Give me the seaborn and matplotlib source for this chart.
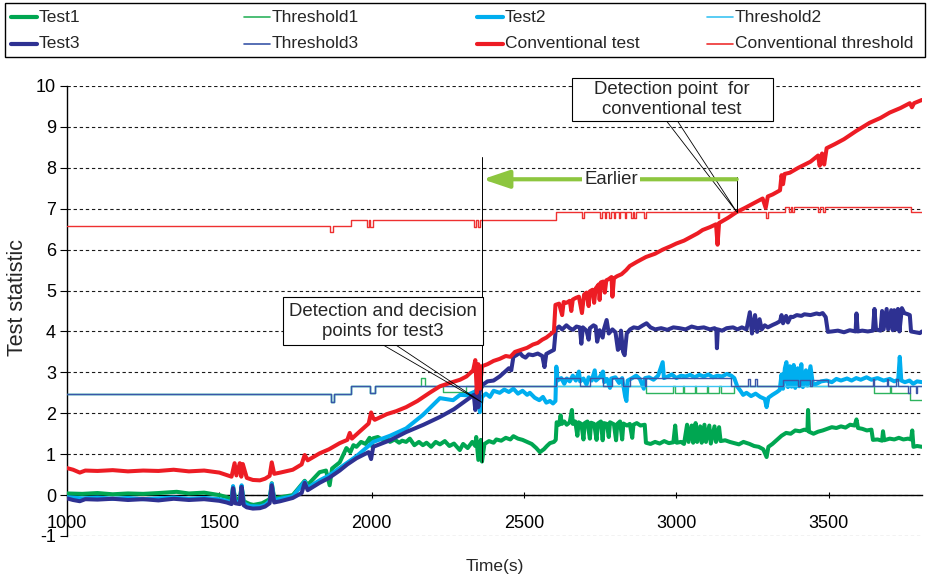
import matplotlib
matplotlib.use("Agg")
import matplotlib.pyplot as plt
from matplotlib.lines import Line2D
from matplotlib.patches import Rectangle
import pandas as pd
import seaborn as sns

# ---------------- data ----------------
test1 = [(1000, 0.04), (1050, 0.03), (1100, 0.05), (1150, 0.02), (1200, 0.04), (1250, 0.03),
         (1300, 0.05), (1360, 0.08), (1400, 0.04), (1450, 0.06), (1500, 0.0), (1524, -0.05),
         (1540, -0.10), (1545, 0.20), (1552, -0.08), (1567, -0.10), (1573, 0.22), (1580, -0.15),
         (1600, -0.22), (1612, -0.24), (1640, -0.20), (1665, -0.10), (1672, 0.29), (1680, -0.08),
         (1741, 0.0), (1780, 0.35), (1790, 0.25), (1829, 0.56), (1850, 0.60), (1862, 0.24),
         (1870, 0.65), (1895, 0.80), (1917, 1.15), (1930, 1.05), (1940, 1.22), (1950, 1.18),
         (1965, 1.30), (1980, 1.25), (1993, 1.40), (2000, 1.20), (2005, 1.39), (2020, 1.42),
         (2035, 1.35), (2050, 1.38), (2060, 1.30), (2075, 1.36), (2090, 1.28), (2100, 1.33),
         (2113, 1.30), (2125, 1.38), (2140, 1.22), (2155, 1.30), (2168, 1.22), (2180, 1.28),
         (2195, 1.18), (2210, 1.30), (2224, 1.24), (2240, 1.32), (2255, 1.20), (2270, 1.26),
         (2289, 1.10), (2300, 1.25), (2315, 1.15), (2330, 1.30), (2340, 1.20), (2343, 1.42),
         (2350, 0.86), (2358, 1.35), (2362, 0.82), (2370, 1.25), (2385, 1.32), (2400, 1.28),
         (2409, 1.36), (2425, 1.33), (2440, 1.40), (2455, 1.36), (2465, 1.44), (2480, 1.38),
         (2495, 1.35), (2510, 1.30), (2525, 1.25), (2540, 1.15), (2552, 1.05), (2565, 1.12),
         (2575, 1.20), (2585, 1.27), (2598, 1.30), (2604, 1.35), (2607, 1.78), (2615, 1.72),
         (2620, 1.95), (2624, 1.74), (2632, 1.80), (2640, 1.72), (2650, 1.78), (2657, 2.08),
         (2660, 1.74), (2668, 1.80), (2675, 1.45), (2679, 1.78), (2688, 1.74), (2695, 1.36),
         (2699, 1.76), (2708, 1.80), (2716, 1.38), (2720, 1.77), (2730, 1.74), (2738, 1.35),
         (2742, 1.75), (2752, 1.80), (2758, 1.34), (2762, 1.76), (2772, 1.74), (2778, 1.42),
         (2782, 1.78), (2795, 1.73), (2802, 1.34), (2806, 1.74), (2815, 1.80), (2822, 1.36),
         (2826, 1.75), (2838, 1.70), (2847, 1.74), (2855, 1.40), (2859, 1.72), (2870, 1.76),
         (2882, 1.70), (2896, 1.72), (2900, 1.28), (2915, 1.25), (2930, 1.30), (2945, 1.26),
         (2960, 1.32), (2975, 1.27), (2990, 1.29), (2996, 1.70), (3001, 1.28), (3015, 1.30),
         (3025, 1.25), (3035, 1.72), (3040, 1.30), (3050, 1.70), (3055, 1.28), (3063, 1.76),
         (3068, 1.30), (3078, 1.68), (3083, 1.28), (3092, 1.72), (3097, 1.30), (3108, 1.70),
         (3113, 1.26), (3125, 1.68), (3130, 1.30), (3140, 1.66), (3145, 1.32), (3160, 1.34),
         (3175, 1.30), (3190, 1.27), (3205, 1.24), (3220, 1.30), (3240, 1.25), (3255, 1.20),
         (3270, 1.18), (3285, 1.12), (3296, 0.93), (3302, 1.18), (3315, 1.25), (3330, 1.35),
         (3345, 1.45), (3360, 1.52), (3375, 1.50), (3390, 1.58), (3405, 1.56), (3420, 1.60),
         (3430, 1.58), (3432, 2.08), (3435, 1.55), (3450, 1.50), (3465, 1.55), (3480, 1.58),
         (3495, 1.62), (3510, 1.66), (3525, 1.64), (3540, 1.68), (3555, 1.65), (3570, 1.72),
         (3585, 1.70), (3591, 1.85), (3596, 1.64), (3610, 1.62), (3625, 1.58), (3640, 1.60),
         (3645, 1.35), (3660, 1.36), (3675, 1.33), (3678, 1.56), (3682, 1.34), (3700, 1.38),
         (3715, 1.36), (3730, 1.40), (3745, 1.36), (3760, 1.38), (3770, 1.36), (3774, 1.58),
         (3778, 1.18), (3790, 1.20), (3806, 1.18)]

test2 = [(1000, -0.05), (1050, -0.08), (1100, -0.06), (1150, -0.09), (1200, -0.07), (1250, -0.10),
         (1300, -0.08), (1350, -0.06), (1400, -0.09), (1450, -0.07), (1500, -0.10), (1524, -0.14),
         (1540, -0.18), (1545, 0.22), (1552, -0.15), (1567, -0.18), (1573, 0.24), (1580, -0.20),
         (1600, -0.27), (1633, -0.28), (1650, -0.24), (1665, -0.15), (1672, 0.28), (1680, -0.12),
         (1741, -0.03), (1780, 0.33), (1790, 0.18), (1829, 0.36), (1860, 0.48), (1895, 0.66),
         (1950, 0.95), (2005, 1.30), (2060, 1.45), (2113, 1.63), (2168, 1.96), (2224, 2.37),
         (2267, 2.32), (2290, 2.45), (2311, 2.44), (2345, 2.55), (2355, 2.03), (2362, 2.40),
         (2375, 2.48), (2388, 2.40), (2400, 2.55), (2420, 2.50), (2435, 2.58), (2450, 2.52),
         (2465, 2.60), (2480, 2.48), (2495, 2.55), (2510, 2.45), (2519, 2.50), (2535, 2.38),
         (2550, 2.32), (2562, 2.40), (2573, 2.26), (2585, 2.30), (2595, 2.24), (2603, 2.30),
         (2606, 3.14), (2610, 2.80), (2622, 2.86), (2632, 2.72), (2640, 2.85), (2650, 2.78),
         (2660, 2.92), (2670, 2.80), (2680, 3.02), (2684, 2.78), (2695, 2.85), (2705, 2.70),
         (2712, 2.88), (2722, 2.80), (2732, 3.05), (2736, 2.80), (2748, 2.88), (2759, 3.02),
         (2763, 2.76), (2772, 2.84), (2782, 2.62), (2786, 2.85), (2800, 2.88), (2812, 2.74),
         (2822, 2.86), (2832, 2.40), (2836, 2.30), (2840, 2.80), (2855, 2.86), (2868, 2.92),
         (2880, 2.84), (2893, 2.60), (2897, 2.86), (2910, 2.88), (2925, 2.82), (2940, 2.92),
         (2955, 3.25), (2959, 2.86), (2972, 2.90), (2985, 2.95), (3000, 2.86), (3015, 2.92),
         (3030, 2.90), (3045, 2.94), (3060, 2.88), (3075, 2.94), (3090, 2.90), (3105, 2.95),
         (3120, 2.88), (3135, 2.92), (3150, 2.90), (3165, 2.96), (3180, 2.92), (3190, 2.86),
         (3200, 2.65), (3210, 2.55), (3219, 2.45), (3230, 2.50), (3245, 2.42), (3260, 2.48),
         (3275, 2.40), (3290, 2.35), (3296, 2.15), (3302, 2.38), (3315, 2.45), (3330, 2.52),
         (3339, 2.57), (3345, 2.95), (3350, 2.60), (3356, 3.10), (3361, 3.25), (3366, 2.64),
         (3372, 3.15), (3378, 2.65), (3385, 3.18), (3390, 2.62), (3398, 3.10), (3403, 2.66),
         (3410, 3.20), (3415, 2.64), (3425, 3.05), (3430, 2.68), (3440, 3.15), (3448, 2.70),
         (3460, 2.72), (3475, 2.78), (3493, 2.80), (3510, 2.76), (3525, 2.84), (3540, 2.80),
         (3560, 2.85), (3575, 2.80), (3590, 2.86), (3605, 2.82), (3624, 2.88), (3640, 2.82),
         (3660, 2.86), (3680, 2.80), (3700, 2.84), (3715, 2.78), (3728, 2.82), (3733, 3.38),
         (3738, 2.80), (3750, 2.76), (3765, 2.80), (3777, 2.72), (3790, 2.78), (3806, 2.76)]

test3 = [(1000, -0.08), (1020, -0.12), (1042, -0.15), (1060, -0.10), (1100, -0.11), (1150, -0.09),
         (1200, -0.12), (1250, -0.10), (1300, -0.13), (1350, -0.09), (1400, -0.12), (1450, -0.10),
         (1500, -0.14), (1524, -0.18), (1540, -0.22), (1545, 0.17), (1552, -0.20), (1567, -0.22),
         (1573, 0.20), (1580, -0.25), (1590, -0.30), (1610, -0.33), (1633, -0.32), (1650, -0.28),
         (1665, -0.20), (1672, 0.24), (1680, -0.18), (1700, -0.15), (1741, -0.07), (1770, 0.05),
         (1780, 0.30), (1790, 0.12), (1829, 0.30), (1860, 0.42), (1895, 0.60), (1920, 0.75),
         (1950, 0.90), (1990, 1.05), (1998, 0.88), (2005, 1.18), (2060, 1.34), (2113, 1.54),
         (2170, 1.72), (2224, 1.91), (2270, 2.10), (2311, 2.32), (2335, 2.45), (2340, 2.08),
         (2345, 2.60), (2350, 2.15), (2355, 2.55), (2365, 2.70), (2380, 2.78), (2400, 2.80),
         (2420, 2.90), (2435, 3.00), (2450, 3.10), (2458, 3.05), (2465, 3.38), (2475, 3.42),
         (2486, 3.48), (2495, 3.40), (2505, 3.36), (2515, 3.44), (2529, 3.42), (2545, 3.46),
         (2560, 3.40), (2567, 3.13), (2573, 3.45), (2585, 3.50), (2598, 3.55), (2604, 4.05),
         (2615, 4.12), (2625, 4.05), (2639, 4.15), (2650, 4.08), (2660, 4.04), (2672, 4.12),
         (2683, 4.10), (2688, 3.70), (2693, 4.10), (2705, 4.02), (2712, 3.80), (2716, 4.08),
         (2728, 4.15), (2735, 4.12), (2740, 3.75), (2748, 4.03), (2758, 3.85), (2762, 4.05),
         (2771, 4.28), (2778, 3.95), (2790, 4.05), (2800, 3.98), (2808, 3.55), (2814, 3.60),
         (2818, 4.02), (2825, 3.50), (2830, 3.42), (2837, 3.95), (2848, 4.05), (2860, 4.10),
         (2875, 4.08), (2890, 4.15), (2902, 4.20), (2915, 4.10), (2930, 4.05), (2950, 4.08),
         (2970, 4.04), (2990, 4.10), (3010, 4.08), (3030, 4.05), (3050, 4.12), (3070, 4.08),
         (3090, 4.10), (3110, 4.05), (3125, 4.08), (3131, 4.05), (3133, 3.59), (3136, 4.05),
         (3150, 4.02), (3165, 4.08), (3186, 4.10), (3200, 4.05), (3215, 4.10), (3230, 4.05),
         (3241, 4.47), (3248, 3.95), (3258, 4.40), (3265, 3.99), (3273, 4.30), (3280, 4.05),
         (3290, 4.15), (3300, 4.10), (3316, 4.16), (3328, 4.20), (3340, 4.25), (3345, 4.40),
         (3350, 4.20), (3360, 4.38), (3366, 4.22), (3375, 4.36), (3382, 4.35), (3395, 4.40),
         (3410, 4.38), (3420, 4.42), (3440, 4.40), (3460, 4.44), (3470, 4.42), (3480, 4.45),
         (3490, 4.35), (3497, 3.99), (3510, 4.00), (3530, 4.02), (3550, 3.98), (3569, 4.03),
         (3588, 4.00), (3591, 4.44), (3595, 4.00), (3610, 4.02), (3628, 4.00), (3645, 4.02),
         (3650, 4.55), (3655, 4.05), (3670, 4.02), (3675, 4.50), (3680, 4.05), (3690, 4.55),
         (3695, 4.05), (3705, 4.52), (3710, 4.03), (3715, 4.52), (3720, 4.05), (3727, 4.55),
         (3732, 4.00), (3740, 4.57), (3748, 4.45), (3760, 4.42), (3766, 4.40), (3770, 4.00),
         (3785, 3.98), (3799, 3.96), (3806, 4.00)]

conv_test = [(1000, 0.66), (1020, 0.62), (1042, 0.55), (1060, 0.60), (1100, 0.59), (1150, 0.61),
             (1200, 0.58), (1250, 0.60), (1300, 0.59), (1350, 0.62), (1400, 0.58), (1450, 0.60),
             (1500, 0.55), (1524, 0.49), (1540, 0.45), (1550, 0.78), (1556, 0.48), (1567, 0.78),
             (1572, 0.45), (1577, 0.76), (1590, 0.42), (1610, 0.37), (1633, 0.36), (1650, 0.40),
             (1665, 0.47), (1672, 0.80), (1680, 0.52), (1700, 0.55), (1741, 0.62), (1770, 0.75),
             (1780, 0.98), (1790, 0.85), (1829, 1.02), (1860, 1.12), (1895, 1.27), (1920, 1.35),
             (1928, 1.52), (1935, 1.38), (1960, 1.55), (1990, 1.75), (1998, 2.02), (2005, 1.88),
             (2010, 1.84), (2050, 1.98), (2080, 2.05), (2113, 2.15), (2150, 2.30), (2190, 2.50),
             (2224, 2.66), (2260, 2.75), (2290, 2.82), (2311, 2.90), (2333, 3.05), (2340, 3.30),
             (2345, 2.50), (2350, 3.20), (2355, 2.60), (2362, 3.15), (2380, 3.20), (2400, 3.28),
             (2420, 3.33), (2440, 3.40), (2455, 3.38), (2470, 3.50), (2490, 3.55), (2510, 3.60),
             (2529, 3.68), (2545, 3.72), (2560, 3.80), (2573, 3.85), (2585, 3.92), (2598, 4.00),
             (2603, 4.65), (2615, 4.68), (2625, 4.40), (2630, 4.72), (2639, 4.70), (2650, 4.75),
             (2655, 4.50), (2660, 4.78), (2670, 4.82), (2680, 4.85), (2690, 4.45), (2697, 4.90),
             (2705, 4.95), (2712, 4.62), (2716, 4.98), (2725, 5.02), (2730, 4.70), (2735, 5.05),
             (2745, 5.15), (2748, 4.77), (2752, 5.20), (2760, 5.22), (2765, 4.95), (2770, 5.25),
             (2778, 5.28), (2787, 5.33), (2790, 4.85), (2795, 5.30), (2805, 5.35), (2820, 5.40),
             (2835, 5.50), (2847, 5.60), (2870, 5.70), (2900, 5.82), (2930, 5.90), (2955, 6.00),
             (2980, 6.08), (3000, 6.15), (3025, 6.22), (3050, 6.32), (3070, 6.40), (3086, 6.48),
             (3110, 6.55), (3130, 6.62), (3135, 6.12), (3140, 6.65), (3170, 6.78), (3198, 6.92),
             (3225, 7.02), (3250, 7.12), (3283, 7.25), (3293, 7.02), (3300, 7.30), (3316, 7.35),
             (3340, 7.45), (3345, 7.82), (3350, 7.60), (3355, 7.85), (3372, 7.88), (3400, 8.00),
             (3440, 8.15), (3465, 8.30), (3470, 8.05), (3478, 8.35), (3485, 8.08), (3493, 8.48),
             (3520, 8.58), (3550, 8.70), (3590, 8.90), (3634, 9.10), (3670, 9.22), (3700, 9.35),
             (3735, 9.46), (3766, 9.58), (3773, 9.48), (3780, 9.58), (3806, 9.66)]

# step-wise thresholds: (time of change, new level)
threshold1 = [(1000, 2.48), (1866, 2.27), (1876, 2.48), (1931, 2.67), (1993, 2.49), (2010, 2.67),
              (2161, 2.86), (2175, 2.67), (2233, 2.52), (2311, 2.67), (2900, 2.50), (2990, 2.67),
              (2995, 2.50), (3020, 2.67), (3025, 2.50), (3060, 2.67), (3065, 2.50), (3100, 2.67),
              (3105, 2.50), (3140, 2.67), (3145, 2.50), (3190, 2.67), (3650, 2.50), (3700, 2.67),
              (3705, 2.50), (3766, 2.32), (3806, 2.32)]

threshold2 = [(1000, 2.48), (1866, 2.27), (1876, 2.48), (1931, 2.67), (1993, 2.49), (2010, 2.67),
              (3806, 2.67)]

threshold3 = [(1000, 2.48), (1866, 2.27), (1876, 2.48), (1931, 2.67), (1993, 2.49), (2010, 2.67),
              (2604, 2.86), (2683, 2.67), (2716, 2.86), (2758, 2.67), (2790, 2.86), (2824, 2.67),
              (2847, 2.86), (2896, 2.67), (2900, 2.86), (3180, 2.67), (3235, 2.84), (3240, 2.67),
              (3258, 2.84), (3264, 2.67), (3350, 2.82), (3400, 2.67), (3405, 2.82), (3440, 2.67),
              (3446, 2.82), (3497, 2.67), (3645, 2.84), (3650, 2.67), (3690, 2.84), (3696, 2.67),
              (3720, 2.84), (3726, 2.67), (3760, 2.50), (3766, 2.67), (3785, 2.50), (3790, 2.67),
              (3806, 2.67)]

conv_threshold = [(1000, 6.57), (1862, 6.42), (1872, 6.57), (1931, 6.72), (1985, 6.55), (1990, 6.72),
                  (1995, 6.55), (2003, 6.72), (2335, 6.55), (2342, 6.72), (2348, 6.55), (2356, 6.72),
                  (2604, 6.92), (2690, 6.77), (2697, 6.92), (2750, 6.77), (2755, 6.92), (2765, 6.77),
                  (2770, 6.92), (2780, 6.77), (2785, 6.92), (2795, 6.77), (2800, 6.92), (2810, 6.77),
                  (2815, 6.92), (2830, 6.77), (2836, 6.92), (2852, 6.77), (2857, 6.92), (2862, 6.77),
                  (2867, 6.92), (2895, 6.77), (2900, 6.92), (3135, 6.77), (3139, 6.92), (3293, 6.77),
                  (3300, 6.92), (3355, 7.04), (3370, 6.92), (3376, 7.04), (3380, 6.92), (3386, 7.04),
                  (3465, 6.92), (3472, 7.04), (3480, 6.92), (3487, 7.04), (3770, 6.92), (3806, 6.92)]

x_ticks = [1000, 1500, 2000, 2500, 3000, 3500]
y_ticks = list(range(-1, 11))

labels = ["Test1", "Threshold1", "Test2", "Threshold2",
          "Test3", "Threshold3", "Conventional test", "Conventional threshold"]

# annotation anchors (data units)
test3_point = (2361, 2.27)
conv_point = (3198, 6.92)
earlier_y = 7.72

# ---------------- style ----------------
sns.set_style("ticks")
plt.rcParams["font.family"] = ["Liberation Sans", "DejaVu Sans"]

C_TEST1, C_THR1 = "#00A651", "#2DB35E"
C_TEST2, C_THR2 = "#00AEEF", "#3CC3F2"
C_TEST3, C_THR3 = "#2E3192", "#3A56A8"
C_CONV, C_CTHR = "#ED1C24", "#EE3030"

W, H = 933, 582
fig = plt.figure(figsize=(W / 100, H / 100), dpi=100)
ax = fig.add_axes([67 / W, 1 - 536 / H, 855 / W, 450 / H])


def draw(pairs, color, lw, z, step=False):
    df = pd.DataFrame(pairs, columns=["t", "v"])
    kw = {"drawstyle": "steps-post"} if step else {}
    sns.lineplot(data=df, x="t", y="v", ax=ax, color=color, lw=lw, estimator=None,
                 sort=False, legend=False, zorder=z, **kw)


TLW, HLW = 2.9, 1.0
draw(test1, C_TEST1, TLW, 3)
draw(threshold1, C_THR1, HLW, 3.1, step=True)
draw(test2, C_TEST2, TLW, 3.2)
draw(threshold2, C_THR2, HLW, 3.3, step=True)
draw(test3, C_TEST3, TLW, 3.4)
draw(threshold3, C_THR3, HLW, 3.5, step=True)
draw(conv_test, C_CONV, TLW, 3.6)
draw(conv_threshold, C_CTHR, HLW, 3.7, step=True)

ax.set_xlim(1000, 3806)
ax.set_ylim(-1, 10)
ax.set_xticks(x_ticks)
ax.set_yticks(y_ticks)
ax.set_xticklabels([str(v) for v in x_ticks])
ax.set_yticklabels([str(v) for v in y_ticks])

ax.spines["top"].set_visible(False)
ax.spines["right"].set_visible(False)
ax.spines["bottom"].set_position(("data", 0))
for s in ("left", "bottom"):
    ax.spines[s].set_color("black")
    ax.spines[s].set_linewidth(1.0)
ax.spines["bottom"].set_zorder(2.5)

ax.tick_params(axis="x", direction="inout", length=5, width=0.8, pad=12, labelsize=13, colors="black")
ax.tick_params(axis="y", direction="out", length=5, width=0.8, pad=3, labelsize=13, colors="black")
ax.grid(axis="y", linestyle=(0, (3, 2.5)), color="#1a1a1a", lw=0.8)
ax.grid(axis="x", visible=False)
ax.set_axisbelow(True)

ax.set_xlabel("Time(s)", fontsize=12.5)
ax.xaxis.set_label_coords(0.5, -0.052)
ax.set_ylabel("Test statistic", fontsize=15.5)
ax.yaxis.set_label_coords(-0.046, 0.53)

# ---------------- annotations ----------------
ANN = 13.4
ax.add_patch(Rectangle((1708, 3.67), 2364 - 1708, 4.84 - 3.67, fc="white", ec="black", lw=0.8, zorder=8))
ax.add_patch(Rectangle((2656, 9.14), 3316 - 2656, 10.20 - 9.14, fc="white", ec="black", lw=0.8,
                       zorder=8, clip_on=False))
ax.text(2036, 4.25, "Detection and decision\npoints for test3", ha="center", va="center",
        fontsize=ANN, linespacing=1.25, zorder=9)
ax.text(2986, 9.67, "Detection point  for\nconventional test", ha="center", va="center",
        fontsize=ANN, linespacing=1.25, zorder=9, clip_on=False)

ax.plot([2026, test3_point[0], 2069], [3.72, test3_point[1], 3.72], color="black", lw=0.6, zorder=7)
ax.plot([2968, conv_point[0], 3004], [9.14, conv_point[1], 9.14], color="black", lw=0.6, zorder=7)
ax.plot([test3_point[0]] * 2, [0.8, 8.26], color="black", lw=0.7, zorder=7)
ax.plot([conv_point[0]] * 2, [conv_point[1], 7.78], color="black", lw=0.7, zorder=7)

ax.annotate("", xy=(test3_point[0] + 3, earlier_y), xytext=(conv_point[0], earlier_y),
            arrowprops=dict(arrowstyle="-|>,head_length=0.8,head_width=0.27", color="#8DC63F",
                            lw=3.0, mutation_scale=20, shrinkA=0, shrinkB=0), zorder=7)
ax.text(2785, earlier_y, "Earlier", ha="center", va="center", fontsize=ANN, zorder=8,
        bbox=dict(boxstyle="square,pad=0.1", fc="white", ec="none"))

# ---------------- legend (row-wise, 4 equal columns) ----------------
colors = [C_TEST1, C_THR1, C_TEST2, C_THR2, C_TEST3, C_THR3, C_CONV, C_CTHR]
widths = [3.0, 1.2, 3.0, 1.2, 3.0, 1.2, 3.0, 1.2]
col_x = [11, 244, 477, 707]
row_y = [17, 44]
fig.add_artist(Rectangle((5 / W, 1 - 57 / H), 920 / W, 54 / H, transform=fig.transFigure,
                         fill=False, ec="black", lw=1.0))
for i, (lab, c, w) in enumerate(zip(labels, colors, widths)):
    r, k = divmod(i, 4)
    x0 = col_x[k] / W
    y0 = 1 - row_y[r] / H
    fig.add_artist(Line2D([x0, x0 + 26 / W], [y0, y0], transform=fig.transFigure, color=c, lw=w))
    fig.text(x0 + 28 / W, y0, lab, ha="left", va="center", fontsize=12.5)

fig.savefig("out.png", dpi=100)
